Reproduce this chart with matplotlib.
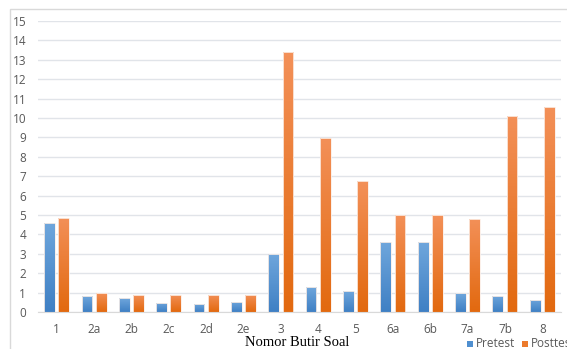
import numpy as np
import matplotlib.pyplot as plt
from matplotlib.colors import LinearSegmentedColormap
from matplotlib.patches import Rectangle

categories = ['1', '2a', '2b', '2c', '2d', '2e', '3', '4', '5', '6a', '6b', '7a', '7b', '8']
pretest = [4.6, 0.8, 0.7, 0.47, 0.42, 0.53, 3.0, 1.27, 1.06, 3.6, 3.6, 0.97, 0.85, 0.62]
posttest = [4.85, 1.0, 0.9, 0.9, 0.9, 0.9, 13.4, 8.95, 6.75, 5.0, 5.0, 4.8, 10.1, 10.55]
series_names = ['Pretest', 'Posttest']

W, H = 567, 349
fig = plt.figure(figsize=(W / 100, H / 100), dpi=100)
fig.patch.set_facecolor('white')

# outer chart frame (cut off on the right and bottom)
fig.patches.append(Rectangle((10 / W, -0.1), 1.2, 1 - 9 / H + 0.1, transform=fig.transFigure,
                             fill=False, edgecolor='#d9d9d9', linewidth=1))

ax = fig.add_axes([38 / W, 37 / H, 523 / W, 291 / H])
x = np.arange(len(categories))
bw = 0.29
off = 0.19

blue_cm = LinearSegmentedColormap.from_list('b', ['#3f80c4', '#6fa6dc'])
orange_cm = LinearSegmentedColormap.from_list('o', ['#e2690f', '#f39058'])
grad = np.linspace(0, 1, 64).reshape(-1, 1)

def gradient_bars(xs, vals, cmap):
    bars = ax.bar(xs, vals, width=bw, color='none', edgecolor='#fbeee6', linewidth=0.6, zorder=3)
    for b in bars:
        x0, y0 = b.get_x(), b.get_y()
        im = ax.imshow(grad, cmap=cmap, origin='lower', aspect='auto',
                       extent=(x0, x0 + b.get_width(), y0, y0 + b.get_height()), zorder=2)
        im.set_clip_path(b)
    return bars

gradient_bars(x - off, pretest, blue_cm)
gradient_bars(x + off, posttest, orange_cm)

ax.set_xlim(-0.5, len(categories) - 0.5)
ax.set_ylim(0, 15)
ax.set_yticks(range(0, 16))
ax.set_xticks(x)
ax.set_xticklabels(categories)
ax.yaxis.grid(True, color='#e1e4e9', linewidth=1)
ax.set_axisbelow(True)
for s in ['top', 'right', 'left']:
    ax.spines[s].set_visible(False)
ax.spines['bottom'].set_color('#d9d9d9')
ax.tick_params(axis='both', length=0, labelsize=8.5, labelcolor='#595959')
ax.tick_params(axis='y', pad=8.5)
ax.tick_params(axis='x', pad=8)
for lab in ax.get_xticklabels() + ax.get_yticklabels():
    lab.set_family('Open Sans')

fig.text(297 / W, 1 - 343 / H, 'Nomor Butir Soal', ha='center', va='center',
         family='Liberation Serif', fontsize=10.5, color='black')

# legend, drawn by hand so that it sits where the original puts it
for sx, tx, col, name in [(467, 476, '#4f8fd0', series_names[0]), (522, 531, '#ec7a2c', series_names[1])]:
    fig.patches.append(Rectangle((sx / W, 1 - 347 / H), 6 / W, 6 / H, transform=fig.transFigure,
                                 facecolor=col, edgecolor='none'))
    fig.text(tx / W, 1 - 343.5 / H, name, ha='left', va='center', family='Open Sans',
             fontsize=8.5, color='#595959')

fig.savefig('out.png', dpi=100)
